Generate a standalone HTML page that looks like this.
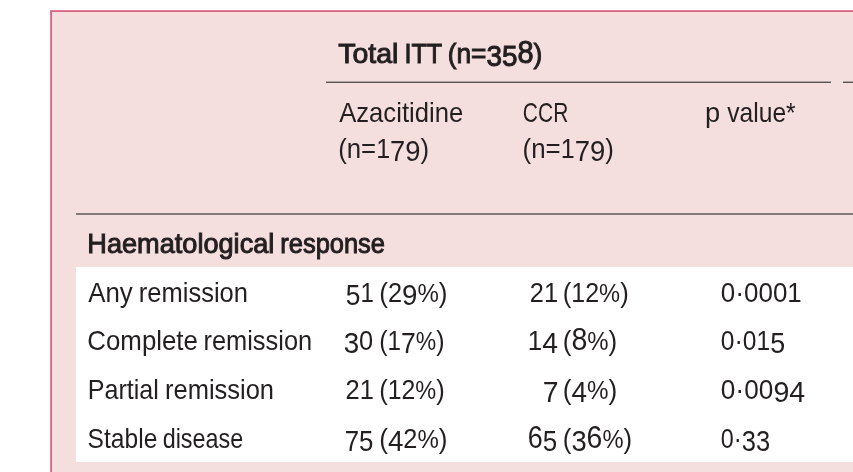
<!DOCTYPE html>
<html lang="en">
<head>
<meta charset="utf-8">
<title>Haematological response</title>
<style>
html,body{margin:0;padding:0;background:#fff;overflow:hidden;}
body{width:853px;height:472px;overflow:hidden;position:relative;font-family:"Liberation Sans",sans-serif;color:#231f20;}
.box{position:absolute;left:50px;top:10px;width:803px;height:462px;background:#f4dfde;border:solid #df8098;border-width:1px 0 0 1px;box-shadow:inset 1px 1px 0 0 #d46480;box-sizing:border-box;}
.white{position:absolute;left:76px;top:267px;width:777px;height:195px;background:#fff;}
.rule{position:absolute;height:2px;}
.r1{background:linear-gradient(#b3a4a4 50%,#5e5152 50%);}
.r2{background:#85787a;}
.t{position:absolute;white-space:nowrap;transform-origin:0 0;font-size:28px;line-height:28px;}
.b{-webkit-text-stroke:1.0px #231f20;}
i{font-style:normal;position:relative;line-height:0;}
.lo{font-size:.97em;}
.dn{font-size:1.06em;top:3px;}
.up{font-size:1.1em;}
.pc{font-size:.92em;}
</style>
</head>
<body>
<div class="box"></div>
<div class="white"></div>
<div role="table" aria-label="Haematological response, total ITT population">
<div class="rule r1" style="left:326px;top:81px;width:504.5px"></div>
<div class="rule r1" style="left:843px;top:81px;width:10px"></div>
<div class="rule r2" style="left:76px;top:213px;width:777px"></div>
<div role="row">
  <div role="columnheader" aria-label="Total ITT (n=358)"><span class="t b" style="left:338px;top:40px;transform:translateX(0.17px) scaleX(1.0169)">Total</span> <span class="t b" style="left:404px;top:40px;transform:translateX(0.39px) scaleX(0.8981)">ITT</span> <span class="t b" style="left:447px;top:40px;transform:translateX(0.73px) scaleX(0.9394)">(n=<i class="dn">35</i><i class="up">8</i>)</span></div>
</div>
<div role="row">
  <div role="columnheader" aria-label="Azacitidine (n=179)"><span class="t" style="left:339px;top:99px;transform:translateX(0.19px) scaleX(0.9157)">Azacitidine</span> <span class="t" style="left:338px;top:135px;transform:translateX(0.19px) scaleX(0.9207)">(n=<i class="lo">1</i><i class="dn">79</i>)</span></div>
  <div role="columnheader" aria-label="CCR (n=179)"><span class="t" style="left:522px;top:99px;transform:translateX(0.87px) scaleX(0.7483)">CCR</span> <span class="t" style="left:522px;top:135px;transform:translateX(0.58px) scaleX(0.9249)">(n=<i class="lo">1</i><i class="dn">79</i>)</span></div>
  <div role="columnheader" aria-label="p value*"><span class="t" style="left:705px;top:99px;transform:translateX(0.10px) scaleX(0.9743)">p</span> <span class="t" style="left:727px;top:99px;transform:translateX(0.19px) scaleX(0.8803)">value*</span></div>
</div>
<div role="row">
  <div role="rowheader" aria-label="Haematological response"><span class="t b" style="left:87px;top:230px;transform:translateX(0.30px) scaleX(0.9691)">Haematological</span> <span class="t b" style="left:280px;top:230px;transform:translateX(0.25px) scaleX(0.9096)">response</span></div>
</div>
<div role="row">
  <div role="rowheader" aria-label="Any remission"><span class="t" style="left:88px;top:279px;transform:translateX(0.18px) scaleX(0.9229)">Any</span> <span class="t" style="left:138px;top:279px;transform:translateX(0.79px) scaleX(0.9111)">remission</span></div>
  <div role="cell" aria-label="51 (29%)"><span class="t" style="left:345px;top:279px;transform:translateX(0.79px) scaleX(0.8858)"><i class="dn">5</i><i class="lo">1</i></span> <span class="t" style="left:379px;top:279px;transform:translateX(0.17px) scaleX(0.9333)">(<i class="lo">2</i><i class="dn">9</i><i class="pc">%</i>)</span></div>
  <div role="cell" aria-label="21 (12%)"><span class="t" style="left:529px;top:279px;transform:translateX(0.82px) scaleX(0.9345)"><i class="lo">21</i></span> <span class="t" style="left:562px;top:279px;transform:translateX(0.79px) scaleX(0.9187)">(<i class="lo">12</i><i class="pc">%</i>)</span></div>
  <div role="cell" aria-label="0·0001"><span class="t" style="left:720px;top:279px;transform:translateX(0.74px) scaleX(0.9552)"><i class="lo">0</i>·<i class="lo">0001</i></span></div>
</div>
<div role="row">
  <div role="rowheader" aria-label="Complete remission"><span class="t" style="left:87px;top:327px;transform:translateX(0.33px) scaleX(0.9228)">Complete</span> <span class="t" style="left:203px;top:327px;transform:translateX(0.50px) scaleX(0.9068)">remission</span></div>
  <div role="cell" aria-label="30 (17%)"><span class="t" style="left:343px;top:327px;transform:translateX(0.65px) scaleX(0.9356)"><i class="dn">3</i><i class="lo">0</i></span> <span class="t" style="left:379px;top:327px;transform:translateX(0.24px) scaleX(0.8918)">(<i class="lo">1</i><i class="dn">7</i><i class="pc">%</i>)</span></div>
  <div role="cell" aria-label="14 (8%)"><span class="t" style="left:527px;top:327px;transform:translateX(0.87px) scaleX(0.9537)"><i class="lo">1</i><i class="dn">4</i></span> <span class="t" style="left:562px;top:327px;transform:translateX(0.78px) scaleX(0.9285)">(<i class="up">8</i><i class="pc">%</i>)</span></div>
  <div role="cell" aria-label="0·015"><span class="t" style="left:720px;top:327px;transform:translateX(0.80px) scaleX(0.9031)"><i class="lo">0</i>·<i class="lo">01</i><i class="dn">5</i></span></div>
</div>
<div role="row">
  <div role="rowheader" aria-label="Partial remission"><span class="t" style="left:87px;top:376px;transform:translateX(0.78px) scaleX(0.8957)">Partial</span> <span class="t" style="left:164px;top:376px;transform:translateX(0.99px) scaleX(0.9102)">remission</span></div>
  <div role="cell" aria-label="21 (12%)"><span class="t" style="left:345px;top:376px;transform:translateX(0.61px) scaleX(0.9382)"><i class="lo">21</i></span> <span class="t" style="left:379px;top:376px;transform:translateX(0.20px) scaleX(0.9143)">(<i class="lo">12</i><i class="pc">%</i>)</span></div>
  <div role="cell" aria-label="7 (4%)"><span class="t" style="left:542px;top:376px;transform:translateX(0.87px) scaleX(0.9556)"><i class="dn">7</i></span> <span class="t" style="left:562px;top:376px;transform:translateX(0.76px) scaleX(0.9391)">(<i class="dn">4</i><i class="pc">%</i>)</span></div>
  <div role="cell" aria-label="0·0094"><span class="t" style="left:720px;top:376px;transform:translateX(0.74px) scaleX(0.9633)"><i class="lo">0</i>·<i class="lo">00</i><i class="dn">94</i></span></div>
</div>
<div role="row">
  <div role="rowheader" aria-label="Stable disease"><span class="t" style="left:87px;top:425px;transform:translateX(0.60px) scaleX(0.8780)">Stable</span> <span class="t" style="left:162px;top:425px;transform:translateX(0.66px) scaleX(0.8340)">disease</span></div>
  <div role="cell" aria-label="75 (42%)"><span class="t" style="left:344px;top:425px;transform:translateX(0.70px) scaleX(0.8694)"><i class="dn">75</i></span> <span class="t" style="left:379px;top:425px;transform:translateX(0.17px) scaleX(0.9333)">(<i class="dn">4</i><i class="lo">2</i><i class="pc">%</i>)</span></div>
  <div role="cell" aria-label="65 (36%)"><span class="t" style="left:527px;top:425px;transform:translateX(0.69px) scaleX(0.8745)"><i class="up">6</i><i class="dn">5</i></span> <span class="t" style="left:562px;top:425px;transform:translateX(0.79px) scaleX(0.9213)">(<i class="dn">3</i><i class="up">6</i><i class="pc">%</i>)</span></div>
  <div role="cell" aria-label="0·33"><span class="t" style="left:720px;top:425px;transform:translateX(0.84px) scaleX(0.8599)"><i class="lo">0</i>·<i class="dn">33</i></span></div>
</div>
</div>
</body>
</html>
